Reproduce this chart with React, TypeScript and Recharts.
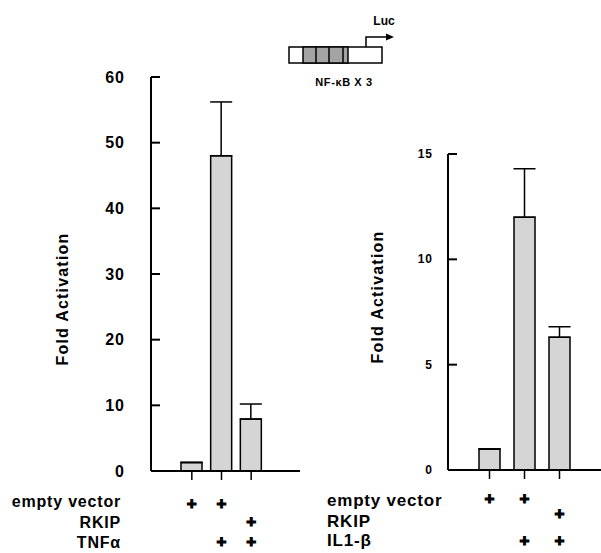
import {Bar, BarChart, ErrorBar, XAxis, YAxis} from 'recharts';

// lanes: vector alone, vector + stimulus, RKIP + stimulus
const lanes = ['vector', 'vector + stim', 'RKIP + stim'];

const tnfFold = [1.3, 48, 7.9];
const tnfError = [0, 8.2, 2.3];
const tnfTicks = [0, 10, 20, 30, 40, 50, 60];

const il1Fold = [1.0, 12, 6.3];
const il1Error = [0, 2.3, 0.5];
const il1Ticks = [0, 5, 10, 15];

// which construct / stimulus goes into each lane
const tnfRowNames = ['empty vector', 'RKIP', 'TNFα'];
const tnfRows = [
    [true, true, false],
    [false, false, true],
    [false, true, true],
];
const il1RowNames = ['empty vector', 'RKIP', 'IL1-β'];
const il1Rows = [
    [true, true, false],
    [false, false, true],
    [false, true, true],
];

const FONT = '"Liberation Sans", Arial, Helvetica, sans-serif';
const BAR_FILL = '#d5d5d5';

const tnfData = lanes.map((lane, i) => ({lane, fold: tnfFold[i], err: [0, tnfError[i]]}));
const il1Data = lanes.map((lane, i) => ({lane, fold: il1Fold[i], err: [0, il1Error[i]]}));

const YTick = (props: any) => {
    const {x, y, payload, size, gap} = props;
    return (
        <g>
            <line x1={x} x2={x + 9} y1={y} y2={y} stroke="#000" strokeWidth={2}/>
            <text x={x - gap} y={y} textAnchor="end" dominantBaseline="central" fontFamily={FONT}
                  fontWeight="bold" fontSize={size} letterSpacing={1} fill="#000">{payload.value}</text>
        </g>
    );
};

const PlusTick = (props: any) => {
    const {x, y, index, rows, offsets, size} = props;
    return (
        <g>
            {rows.map((row: boolean[], r: number) => row[index] ? (
                <text key={r} x={x} y={y + offsets[r]} textAnchor="middle" dominantBaseline="central"
                      fontFamily={FONT} fontWeight="bold" fontSize={size} fill="#000"
                      stroke="#000" strokeWidth={1.1}>+</text>
            ) : null)}
        </g>
    );
};

const axisTitle = (dx: number, dy: number) => (props: any) => {
    const vb = props.viewBox;
    const cx = vb.x + dx;
    const cy = vb.y + vb.height / 2 + dy;
    return (
        <text transform={`translate(${cx},${cy}) rotate(-90)`} textAnchor="middle" dominantBaseline="central"
              fontFamily={FONT} fontWeight="bold" fontSize={16} letterSpacing={1.2} fill="#000">
            Fold Activation
        </text>
    );
};

const FoldChart = ({data, ticks, max, rows, offsets, plusSize, tickSize, tickGap, padding, margin, width, title}: any) => (
    <BarChart width={width} height={553} data={data} margin={margin} barSize={21}>
        <XAxis dataKey="lane" height={60} padding={padding} axisLine={{stroke: '#000', strokeWidth: 2}}
               tickLine={{stroke: '#000', strokeWidth: 1.5}} tickSize={9} tickMargin={0} interval={0}
               tick={(p: any) => <PlusTick {...p} rows={rows} offsets={offsets} size={plusSize}/>}/>
        <YAxis type="number" domain={[0, max]} ticks={ticks} width={60} interval={0}
               axisLine={{stroke: '#000', strokeWidth: 2}} tickLine={false} tickSize={0} tickMargin={0}
               tick={(p: any) => <YTick {...p} size={tickSize} gap={tickGap}/>}
               label={{content: title}}/>
        <Bar dataKey="fold" fill={BAR_FILL} stroke="#000" strokeWidth={1.5} isAnimationActive={false}>
            <ErrorBar dataKey="err" width={11} stroke="#000" strokeWidth={1.5} isAnimationActive={false}/>
        </Bar>
    </BarChart>
);

const Promoter = () => (
    <g fontFamily={FONT} fontWeight="bold" fill="#000">
        <rect x={289} y={47} width={93} height={16} fill="#fff" stroke="#000" strokeWidth={1.5}/>
        <rect x={303} y={47} width={45} height={16} fill="#a4a4a4" stroke="#000" strokeWidth={1.5}/>
        <line x1={316} x2={316} y1={47} y2={63} stroke="#000" strokeWidth={1.5}/>
        <line x1={329} x2={329} y1={47} y2={63} stroke="#000" strokeWidth={1.5}/>
        <line x1={343} x2={343} y1={47} y2={63} stroke="#000" strokeWidth={1.5}/>
        <polyline points="366,47 366,37 387,37" fill="none" stroke="#000" strokeWidth={1.5}/>
        <polygon points="386,33.5 394,37 386,40.5" fill="#000"/>
        <text x={384} y={25} textAnchor="middle" fontSize={12}>Luc</text>
        <text x={344} y={86} textAnchor="middle" fontSize={11} letterSpacing={0.6}>NF-κB X 3</text>
    </g>
);

export default function App() {
    return (
        <div style={{position: 'absolute', left: 0, top: 0, width: 601, height: 553, background: '#fff'}}>
            <div style={{position: 'absolute', left: 0, top: 0}}>
                <FoldChart data={tnfData} ticks={tnfTicks} max={60} rows={tnfRows} offsets={[23, 41, 61]}
                           plusSize={17} tickSize={16} tickGap={26} padding={{left: 26, right: 34}}
                           margin={{top: 77, right: 10, bottom: 22, left: 91}} width={310}
                           title={axisTitle(-29, 25)}/>
            </div>
            <div style={{position: 'absolute', left: 330, top: 0}}>
                <FoldChart data={il1Data} ticks={il1Ticks} max={15} rows={il1Rows} offsets={[19, 34, 61]}
                           plusSize={17} tickSize={12} tickGap={15} padding={{left: 24, right: 24}}
                           margin={{top: 154, right: 0, bottom: 23, left: 58}} width={271}
                           title={axisTitle(-11, -15)}/>
            </div>
            <svg width={601} height={553} style={{position: 'absolute', left: 0, top: 0, pointerEvents: 'none'}}>
                <Promoter/>
                <g fontFamily={FONT} fontWeight="bold" fill="#000" fontSize={16} letterSpacing={0.8}>
                    {tnfRowNames.map((name, i) => (
                        <text key={name} x={121} y={[507, 528, 548][i]} textAnchor="end">{name}</text>
                    ))}
                </g>
                <g fontFamily={FONT} fontWeight="bold" fill="#000" fontSize={17} letterSpacing={0.8}>
                    {il1RowNames.map((name, i) => (
                        <text key={name} x={327} y={[506, 527, 546][i]}>{name}</text>
                    ))}
                </g>
            </svg>
        </div>
    );
}
